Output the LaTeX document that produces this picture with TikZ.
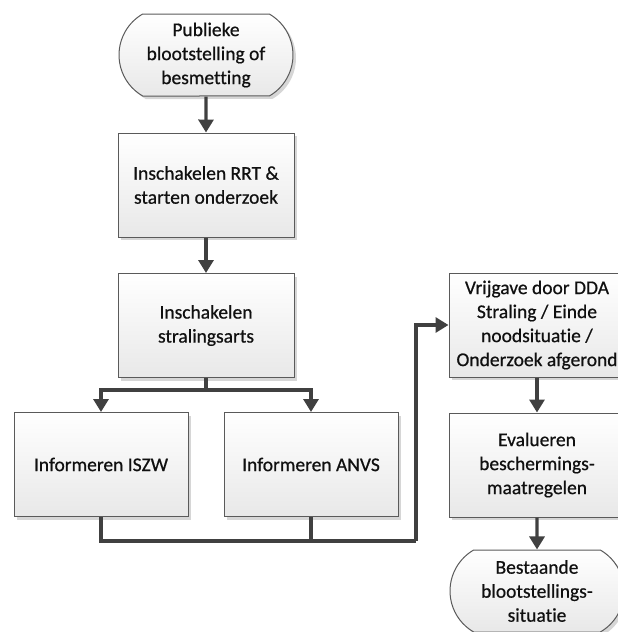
\documentclass[tikz,border=0pt]{standalone}
\usepackage{fontspec}
\setmainfont[Ligatures=NoCommon]{Carlito}
\newfontfamily\boxfont[Ligatures=NoCommon, FakeBold=0.6]{Carlito}
\usetikzlibrary{arrows.meta,shapes.misc,shadows,positioning}
\definecolor{linegray}{HTML}{404040}
\definecolor{edgegray}{HTML}{5A5A5A}
\definecolor{textgray}{HTML}{101010}
\tikzset{
  stepbox/.style={draw=edgegray, line width=1pt, top color=white, bottom color=black!9,
    minimum width=176pt, minimum height=104pt, align=center, text=textgray,
    font=\boxfont\fontsize{19.5}{24}\selectfont, inner sep=1pt,
    drop shadow={shadow xshift=3pt, shadow yshift=-3pt, fill=black!16, opacity=1}},
  termbox/.style={stepbox, rounded rectangle, rounded rectangle arc length=120, minimum height=82pt},
  flow/.style={draw=linegray, line width=3.2pt, -{Triangle[length=13pt,width=15pt]}},
  link/.style={draw=linegray, line width=3.2pt}
}
\begin{document}
\begin{tikzpicture}[x=1pt, y=-1pt]
\useasboundingbox (0,0) rectangle (618,632);
\clip (0,0) rectangle (618,632);

% left column
\node[termbox] (start) at (206,55) {Publieke\\blootstelling of\\besmetting};
\node[stepbox] (rrt) at (206,185) {Inschakelen RRT \&\\starten onderzoek};
\node[stepbox] (arts) at (206,325.5) {Inschakelen\\stralingsarts};
\node[stepbox, minimum width=174pt] (iszw) at (101,464.5) {Informeren ISZW};
\node[stepbox, minimum width=174pt] (anvs) at (311,464.5) {Informeren ANVS};

% right column
\node[stepbox] (vrij) at (537,325) {Vrijgave door DDA\\Straling / Einde\\noodsituatie /\\Onderzoek afgerond};
\node[stepbox] (eval) at (537,465) {Evalueren\\beschermings-\\maatregelen};
\node[termbox] (eind) at (537,591) {Bestaande\\blootstellings-\\situatie};

% routing points
\coordinate (split) at (206,390);
\coordinate (merge) at (416,541);

% connectors
\draw[flow] (start) -- (rrt);
\draw[flow] (rrt) -- (arts);
\draw[link] (arts) -- (split);
\draw[flow] (split) -| (iszw);
\draw[flow] (split) -| (anvs);
\draw[link] (iszw) |- (merge);
\draw[link] (anvs.south) -- (anvs.south |- merge);
\draw[flow] (merge) |- (vrij);
\draw[flow] (vrij) -- (eval);
\draw[flow] (eval) -- (eind);
\end{tikzpicture}
\end{document}
